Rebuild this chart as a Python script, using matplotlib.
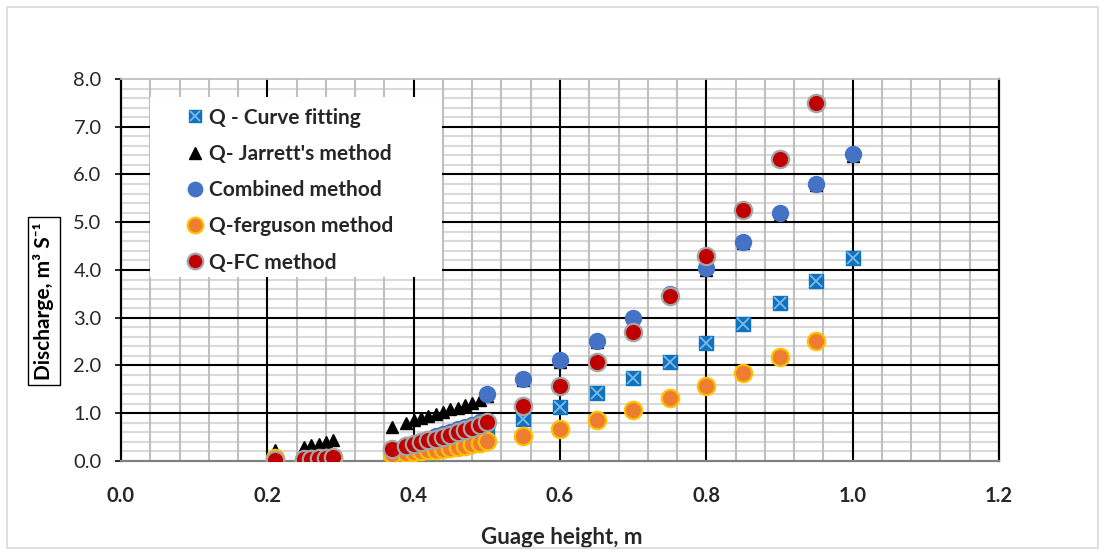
import numpy as np
import matplotlib
matplotlib.use("Agg")
import matplotlib.pyplot as plt
from matplotlib.patches import Rectangle
from matplotlib.ticker import FixedLocator, FormatStrFormatter
from matplotlib.legend_handler import HandlerTuple

plt.rcParams['font.family'] = ['Lato', 'DejaVu Sans']

nan = np.nan
gauge = [0.21, 0.25, 0.26, 0.27, 0.28, 0.29,
         0.37, 0.39, 0.40, 0.41, 0.42, 0.43, 0.44, 0.45, 0.46, 0.47, 0.48, 0.49, 0.50,
         0.55, 0.60, 0.65, 0.70, 0.75, 0.80, 0.85, 0.90, 0.95, 1.00]

q_curve = [0.02, 0.03, 0.04, 0.04, 0.05, 0.06,
           0.20, 0.24, 0.27, 0.29, 0.32, 0.35, 0.38, 0.41, 0.45, 0.48, 0.52, 0.56, 0.62,
           0.88, 1.14, 1.42, 1.74, 2.08, 2.47, 2.87, 3.31, 3.76, 4.25]
q_jarrett = [0.22, 0.30, 0.33, 0.36, 0.40, 0.44,
             0.72, 0.80, 0.85, 0.90, 0.95, 0.99, 1.03, 1.08, 1.12, 1.17, 1.22, 1.28, 1.37,
             1.69, 2.08, 2.49, 2.96, 3.47, 4.01, 4.56, 5.16, 5.78, 6.39]
q_combined = [0.03, 0.04, 0.05, 0.06, 0.07, 0.08,
              0.26, 0.33, 0.38, 0.42, 0.47, 0.52, 0.56, 0.61, 0.66, 0.71, 0.76, 0.82, 1.40,
              1.72, 2.11, 2.52, 2.99, 3.50, 4.04, 4.59, 5.19, 5.81, 6.42]
q_ferguson = [0.06, 0.03, 0.04, 0.05, 0.06, 0.07,
              0.14, 0.17, 0.19, 0.20, 0.22, 0.24, 0.26, 0.28, 0.30, 0.32, 0.35, 0.38, 0.41,
              0.52, 0.68, 0.85, 1.06, 1.31, 1.57, 1.85, 2.18, 2.51, nan]
q_fc = [0.03, 0.04, 0.05, 0.06, 0.07, 0.08,
        0.25, 0.31, 0.35, 0.39, 0.43, 0.47, 0.51, 0.55, 0.60, 0.65, 0.70, 0.76, 0.82,
        1.15, 1.58, 2.08, 2.71, 3.45, 4.29, 5.26, 6.32, 7.50, nan]

labels = ["Q - Curve fitting", "Q- Jarrett's method", "Combined method",
          "Q-ferguson method", "Q-FC method"]
x_ticks = [0.0, 0.2, 0.4, 0.6, 0.8, 1.0, 1.2]
y_ticks = [0.0, 1.0, 2.0, 3.0, 4.0, 5.0, 6.0, 7.0, 8.0]
x_minor_step = 0.04
y_minor_step = 0.2

fig = plt.figure(figsize=(11.05, 5.55), dpi=100)
fig.patches.append(Rectangle((0.006, 0.012), 0.988, 0.976, transform=fig.transFigure,
                             fill=False, edgecolor='#D9D9D9', linewidth=1.2))
ax = fig.add_axes([0.1095, 0.1694, 0.7946, 0.6883])

ax.set_xlim(x_ticks[0], x_ticks[-1])
ax.set_ylim(y_ticks[0], y_ticks[-1])
ax.xaxis.set_major_locator(FixedLocator(x_ticks))
ax.yaxis.set_major_locator(FixedLocator(y_ticks))
ax.xaxis.set_major_formatter(FormatStrFormatter('%.1f'))
ax.yaxis.set_major_formatter(FormatStrFormatter('%.1f'))

# grid lines
xminor = [v for v in np.round(np.arange(x_ticks[0], x_ticks[-1] + 1e-9, x_minor_step), 4)
          if not np.any(np.isclose(v, x_ticks))]
yminor = [v for v in np.round(np.arange(y_ticks[0], y_ticks[-1] + 1e-9, y_minor_step), 4)
          if not np.any(np.isclose(v, y_ticks))]
ax.hlines(yminor, 0, 1, transform=ax.get_yaxis_transform(), color='#D9D9D9',
          linewidth=1.5, zorder=1)
ax.vlines(xminor, 0, 1, transform=ax.get_xaxis_transform(), color='#BFBFBF',
          linewidth=1.5, zorder=1.1)
ax.hlines(y_ticks[1:-1], 0, 1, transform=ax.get_yaxis_transform(), color='black',
          linewidth=1.5, zorder=1.5)
ax.vlines(x_ticks[1:-1], 0, 1, transform=ax.get_xaxis_transform(), color='black',
          linewidth=1.5, zorder=1.5)

for s in ['left', 'right']:
    ax.spines[s].set_color('black')
    ax.spines[s].set_linewidth(1.6)
ax.spines['top'].set_color('#BFBFBF')
ax.spines['top'].set_linewidth(1.3)
ax.spines['bottom'].set_color('#808080')
ax.spines['bottom'].set_linewidth(1.6)

ax.tick_params(axis='x', which='both', length=0, pad=18, labelsize=14.5)
ax.tick_params(axis='y', which='major', length=4, width=1.2, color='black', pad=10, labelsize=14.5)
for t in ax.get_xticklabels():
    t.set_fontweight('bold')
    t.set_color('#262626')
for t in ax.get_yticklabels():
    t.set_color('#262626')

sq, = ax.plot(gauge, q_curve, linestyle='none', marker='s', markersize=10,
              markerfacecolor='#0F72BF', markeredgecolor='#0F72BF', zorder=3)
sqx, = ax.plot(gauge, q_curve, linestyle='none', marker='x', markersize=8.5,
               markeredgewidth=1.3, color='#7DB8EA', zorder=3.1)
tri, = ax.plot(gauge, q_jarrett, linestyle='none', marker='^', markersize=9,
               color='black', zorder=4)
comb, = ax.plot(gauge, q_combined, linestyle='none', marker='o', markersize=11.5,
                markerfacecolor='#4472C4', markeredgecolor='#4472C4', zorder=5)
ferg, = ax.plot(gauge, q_ferguson, linestyle='none', marker='o', markersize=12.5,
                markerfacecolor='#ED7D31', markeredgecolor='#FFC000',
                markeredgewidth=1.6, zorder=6)
fc, = ax.plot(gauge, q_fc, linestyle='none', marker='o', markersize=12.5,
              markerfacecolor='#C00000', markeredgecolor='#A5A5A5',
              markeredgewidth=1.6, zorder=7)

# legend background box
ax.add_patch(Rectangle((0.033, 0.482), 0.333, 0.471, transform=ax.transAxes,
                       facecolor='white', edgecolor='none', zorder=9))
leg = ax.legend([(sq, sqx), tri, comb, ferg, fc], labels,
                handler_map={tuple: HandlerTuple(ndivide=1)},
                loc='upper left', bbox_to_anchor=(0.076, 0.925),
                frameon=False,
                prop={'size': 15, 'weight': 'bold'},
                handlelength=0.7, handletextpad=0.3, labelspacing=0.78,
                borderpad=0, borderaxespad=0, markerscale=0.9)
leg.set_zorder(10)
for t in leg.get_texts():
    t.set_color('#262626')

ax.set_xlabel('Guage height, m', fontsize=16, fontweight='bold', color='#262626')
ax.xaxis.label.set_va('top')
ax.xaxis.set_label_coords(0.502, -0.172)
ax.set_ylabel('Discharge, m³ S⁻¹', fontsize=15, fontweight='bold', color='black',
              bbox=dict(boxstyle='square,pad=0.25', facecolor='white', edgecolor='black', linewidth=1))
ax.yaxis.label.set_va('center')
ax.yaxis.label.set_ha('center')
ax.yaxis.set_label_coords(-0.0877, 0.419)

fig.savefig('out.png', dpi=100)
